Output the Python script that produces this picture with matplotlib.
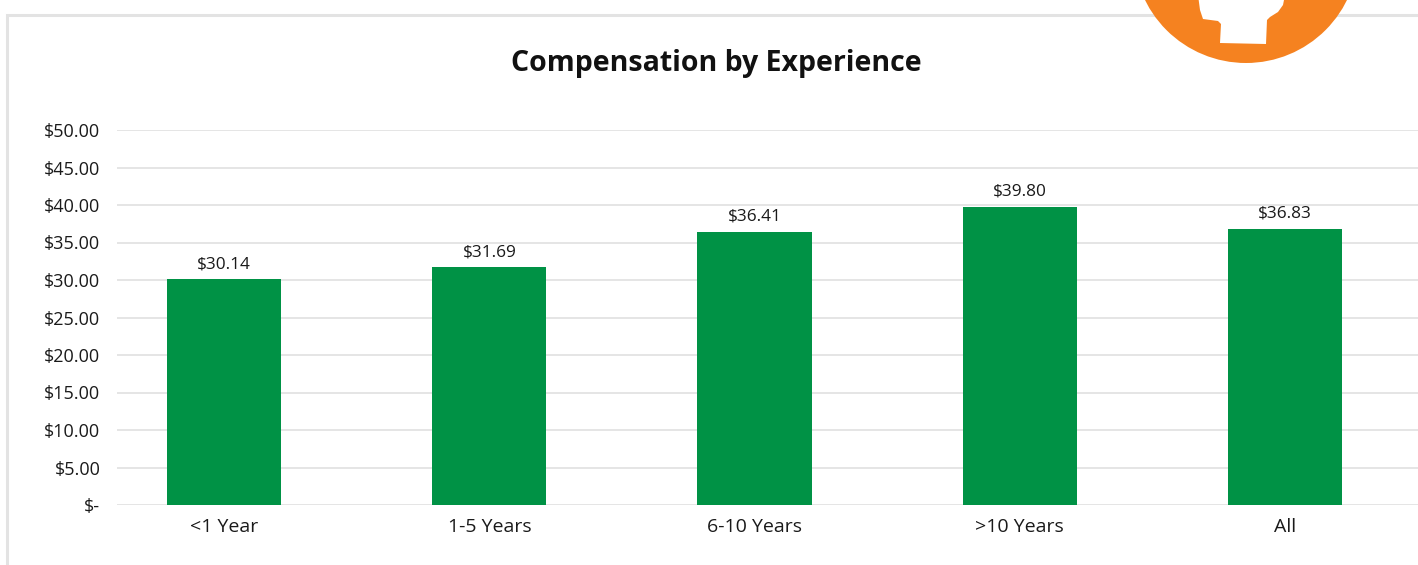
import numpy as np
import matplotlib as mpl
mpl.use('Agg')
import matplotlib.pyplot as plt
from matplotlib.patches import Rectangle, Circle, Polygon
from matplotlib.transforms import Affine2D

plt.rcParams['font.family'] = ['Open Sans', 'DejaVu Sans']

categories = ['<1 Year', '1-5 Years', '6-10 Years', '>10 Years', 'All']
pay = [30.14, 31.69, 36.41, 39.80, 36.83]
yticks = [0, 5, 10, 15, 20, 25, 30, 35, 40, 45, 50]

W, H = 1418, 565
fig = plt.figure(figsize=(W/100, H/100), dpi=100)
px = Affine2D().scale(1, -1).translate(0, H)   # pixel coords, y down

# light frame around the chart area
fig.patches.append(Rectangle((7/W, -0.1), 1.2, 1 - 15/H + 0.1, transform=fig.transFigure,
                             fill=False, edgecolor='#e3e3e3', linewidth=2.2, zorder=0))

# orange logo, cut by the top edge
fig.patches.append(Circle((1246, -49.5), 112.5, transform=px,
                          facecolor='#F58220', edgecolor='none', zorder=1))
keyhole = [(1198, -5), (1285, -5), (1283, 5), (1278, 12), (1270, 17), (1267, 20),
           (1266, 44), (1220, 43), (1221, 24), (1218, 21), (1203, 19), (1200, 10)]
fig.patches.append(Polygon(keyhole, closed=True, transform=px,
                           facecolor='white', edgecolor='none', zorder=2))

ax = fig.add_axes([117/W, 1 - 505/H, 1 - 117/W, (505 - 130)/H])
x = np.arange(len(categories))
ax.bar(x, pay, width=0.43, color='#009245', zorder=3)
for xi, v in zip(x, pay):
    ax.annotate('$%.2f' % v, (xi, v), xytext=(0, 5), textcoords='offset points',
                ha='center', va='bottom', fontsize=12.4, color='#1a1a1a')

ax.set_ylim(0, 50)
ax.set_xlim(-0.404, 4.502)
ax.set_yticks(yticks)
ax.set_yticklabels(['$-' if t == 0 else '$%.2f' % t for t in yticks])
ax.set_xticks(x)
ax.set_xticklabels(categories)
ax.tick_params(axis='both', length=0, colors='#1a1a1a')
ax.tick_params(axis='y', pad=12, labelsize=13)
ax.tick_params(axis='x', pad=9, labelsize=14)
ax.grid(axis='y', color='#e3e3e3', linewidth=1.3, zorder=0)
ax.set_axisbelow(True)
for s in ax.spines.values():
    s.set_visible(False)

fig.text(716/W, 1 - 64/H, 'Compensation by Experience', ha='center', va='center',
         fontsize=20.5, fontweight='bold', color='#111111')

fig.savefig('out.png', dpi=100)
